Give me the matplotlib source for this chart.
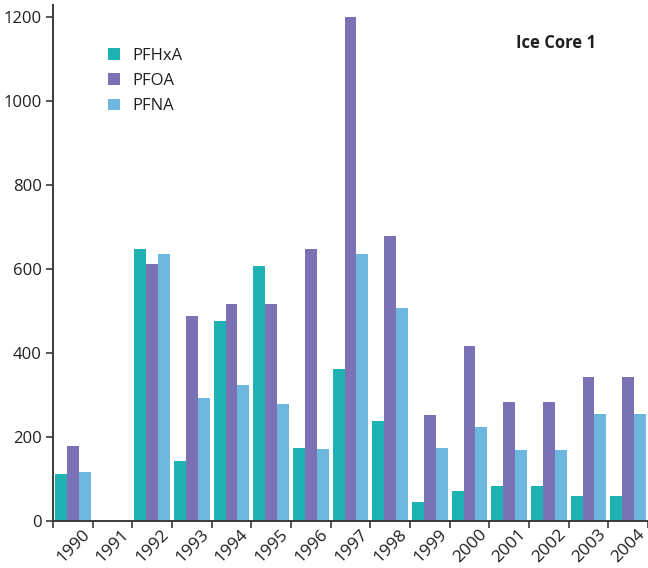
import numpy as np
import matplotlib
matplotlib.use("Agg")
import matplotlib.pyplot as plt
from matplotlib.transforms import ScaledTranslation

plt.rcParams['font.family'] = ['Open Sans', 'DejaVu Sans']

years = ['1990', '1991', '1992', '1993', '1994', '1995', '1996', '1997',
         '1998', '1999', '2000', '2001', '2002', '2003', '2004']
pfhxa = [112, 0, 648, 143, 476, 607, 174, 362, 238, 45, 71, 83, 83, 60, 60]
pfoa = [179, 0, 612, 488, 517, 517, 648, 1200, 679, 252, 417, 283, 283, 343, 343]
pfna = [117, 0, 636, 293, 324, 279, 171, 636, 507, 174, 224, 169, 169, 255, 255]

series = [('PFHxA', pfhxa, '#1fb2b3'),
          ('PFOA', pfoa, '#7a72b4'),
          ('PFNA', pfna, '#6db6de')]

W, H = 648, 568
fig = plt.figure(figsize=(W / 100, H / 100), dpi=100)
ax = fig.add_axes([53 / W, (H - 521) / H, (648 - 53) / W, (521 - 5) / H])

x = np.arange(len(years)) + 0.5
bw = 0.3
handles = []
for k, (name, vals, col) in enumerate(series):
    b = ax.bar(x + (k - 1) * bw, vals, width=bw, color=col, label=name, linewidth=0)
    handles.append(b)

ax.set_xlim(0, len(years))
ax.set_ylim(0, 1229)

for s in ['top', 'right']:
    ax.spines[s].set_visible(False)
for s in ['left', 'bottom']:
    ax.spines[s].set_color('#3a3a3a')
    ax.spines[s].set_linewidth(1.4)

ax.set_yticks([0, 200, 400, 600, 800, 1000, 1200])
ax.tick_params(axis='y', length=5, width=1.2, color='#3a3a3a', labelsize=12, pad=3,
               labelcolor='#231f20')

# tick marks at group boundaries, labels at group centres
ax.set_xticks(np.arange(len(years) + 1))
ax.set_xticklabels([])
ax.tick_params(axis='x', which='major', length=5, width=1.2, color='#3a3a3a')
ax.set_xticks(x, minor=True)
ax.set_xticklabels(years, minor=True, rotation=45, ha='right', rotation_mode='anchor',
                   fontsize=12.5, color='#231f20')
ax.tick_params(axis='x', which='minor', length=0, pad=4)
off = ScaledTranslation(9 / 100, 0, fig.dpi_scale_trans)
for lab in ax.get_xticklabels(minor=True):
    lab.set_transform(lab.get_transform() + off)

leg = ax.legend(handles=handles, loc='upper left', bbox_to_anchor=(108 / W, 1 - 48 / H),
                bbox_transform=fig.transFigure, frameon=False, fontsize=12,
                handlelength=0.72, handleheight=0.72, handletextpad=0.72,
                labelspacing=0.55, borderpad=0, borderaxespad=0)
for t in leg.get_texts():
    t.set_color('#231f20')

fig.text(516 / W, 1 - 48 / H, 'Ice Core 1', fontsize=12, fontweight='bold',
         color='#231f20', ha='left', va='baseline')

fig.savefig('out.png', dpi=100)
